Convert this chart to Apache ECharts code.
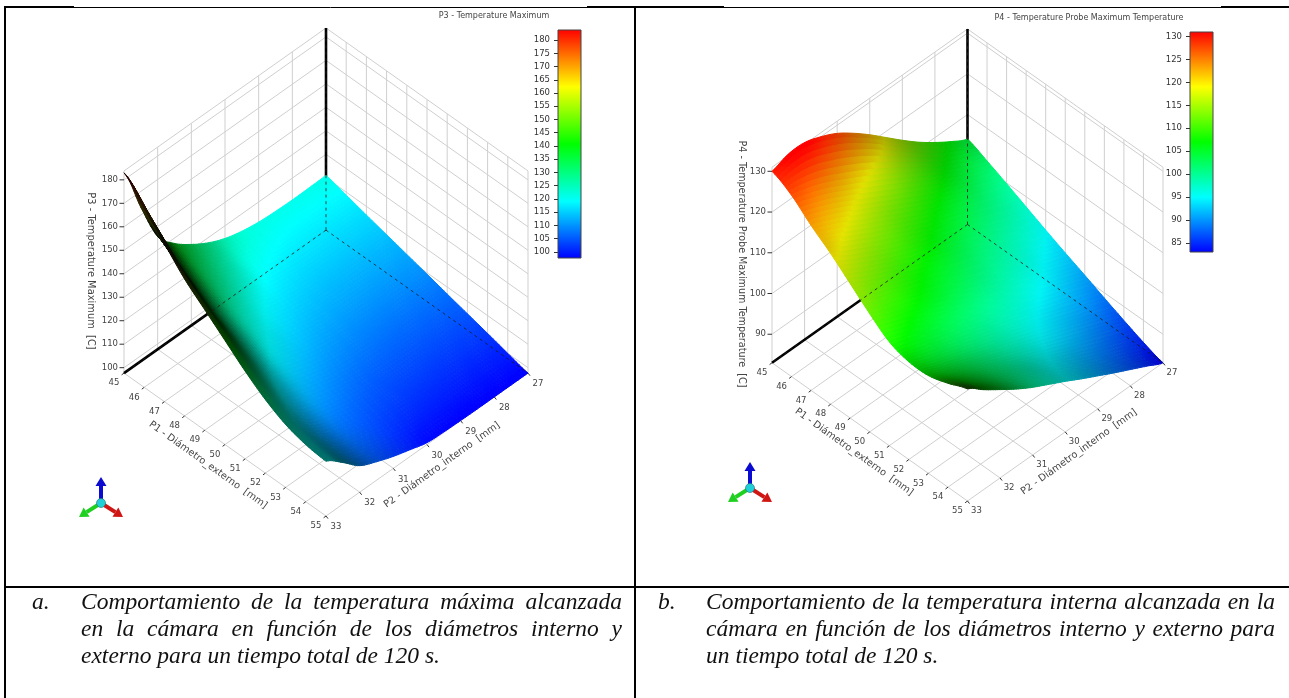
<!DOCTYPE html>
<html><head><meta charset="utf-8">
<style>html,body{margin:0;padding:0;background:#fff}#c{width:1289px;height:698px}</style>
<script src="https://cdn.jsdelivr.net/npm/echarts@6/dist/echarts.min.js"></script>
</head><body><div id="c"></div>
<script>
// ---- Data ----
const p1Ticks = [45,46,47,48,49,50,51,52,53,54,55];
const p2Ticks = [27,28,29,30,31,32,33];
const p2Samples = [27,27.5,28,28.5,29,29.5,30,30.5,31,31.5,32,32.5,33];
const leftZTicks = [100,110,120,130,140,150,160,170,180];
const rightZTicks = [90,100,110,120,130];
const leftBarTicks = [100,105,110,115,120,125,130,135,140,145,150,155,160,165,170,175,180];
const rightBarTicks = [85,90,95,100,105,110,115,120,125,130];
const leftRange = [97.7,183.8];
const rightRange = [83,131];
const rampColors = [[0,0,255],[0,255,255],[0,255,0],[255,255,0],[255,0,0]];
// temperature per row P1 = 45..55, per column P2 = 27..33 (step .5)
const leftSurface = [
[121,120.8,120.7,120.9,121.4,122.6,124.6,127.8,132.2,137.7,145.8,163.2,183],
[118.7,118.6,118.6,118.8,119.3,120.4,122,124.8,128.7,133.6,140.8,156.3,174],
[116.3,116.3,116.3,116.5,116.9,117.8,119.2,121.7,125.1,129.5,135.8,149.4,165],
[114,114,114,114.2,114.5,115.3,116.6,118.6,121.6,125.3,130.8,142.6,156],
[111.7,111.7,111.7,111.9,112.2,112.9,114,115.8,118.4,121.8,126.6,137.1,149],
[109.4,109.4,109.4,109.5,109.8,110.4,111.4,113,115.3,118.2,122.4,131.6,142],
[107,107,107,107.1,107.4,107.9,108.8,110.1,112,114.6,118.2,126,135],
[104.7,104.7,104.7,104.8,105,105.4,106.1,107.4,109.1,111.3,114.4,121.2,129],
[102.4,102.4,102.4,102.5,102.7,103.1,103.8,104.9,106.4,108.4,111.4,117.6,124.5],
[100,100,100,100.1,100.3,100.6,101.2,102.5,104.6,106.8,110,116,122],
[97.7,97.7,97.7,97.7,97.8,98,98.5,100.6,102.8,105.6,109,115.4,121]];
const rightSurface = [
[104,106.2,108.8,111.7,115,118.5,122,125.2,128,130,131.4,131.4,130],
[102,103.6,105.6,108,110.6,113.2,115.8,118.2,120.5,122.7,124.8,126.4,127.5],
[99.8,101.2,102.9,104.7,106.6,108.7,110.9,113.1,115.4,117.6,119.8,121.8,123.5],
[97.5,99,100.6,102.2,103.8,105.5,107.4,109.4,111.4,113.4,115.6,117.8,120],
[95.2,96.8,98.3,99.9,101.4,103,104.7,106.3,108,109.8,111.8,113.8,116],
[93,94.5,96.1,97.7,99.2,100.7,102.3,103.8,105.4,107,108.6,110.2,112],
[90.9,92.4,94,95.5,97,98.5,99.9,101.3,102.7,104.1,105.6,107.1,108.5],
[88.7,90.2,91.7,93.3,94.9,96.5,98,99.5,101,102.4,103.9,105.4,107],
[86.6,88.2,89.9,91.6,93.3,95,96.8,98.5,100.2,101.9,103.6,105.3,107],
[84.6,86.3,88.1,89.9,91.8,93.8,95.8,97.9,100,102,104.1,106.3,108.5],
[83,85,87,89,91.1,93.2,95.4,97.5,99.6,102,104.7,107.5,110.5]];
const captionA = ["Comportamiento de la temperatura máxima alcanzada","en la cámara en función de los diámetros interno y","externo para un tiempo total de 120 s."];
const captionB = ["Comportamiento de la temperatura interna alcanzada en la","cámara en función de los diámetros interno y externo para","un tiempo total de 120 s."];

// ---- Projection of (P1,P2,T) onto the hidden scene axes ----
const K = 0.707, SUB = 7, UI = 'DejaVu Sans', INK = '#444';
function project(p1, p2, t, r) {
  const a = (p1-45)/10, b = (33-p2)/6, c = (t-r[0])/(r[1]-r[0]);
  return [a+b, (b-a)*K + c];
}
function rampRGB(t, r) {
  const x = Math.max(0, Math.min(0.99999, (t-r[0])/(r[1]-r[0]))) * 4, k = Math.floor(x), f = x-k;
  return rampColors[k].map((v,n)=>v+(rampColors[k+1][n]-v)*f);
}
function cr(p0,p1,p2,p3,t){return .5*(2*p1+(p2-p0)*t+(2*p0-5*p1+4*p2-p3)*t*t+(3*p1-p0-3*p2+p3)*t*t*t);}
function sampler(tab){
  const R=tab.length-1,C=tab[0].length-1,cl=(v,m)=>Math.max(0,Math.min(m,v));
  return (x,y)=>{
    const i=Math.min(R-1,Math.floor(x)),j=Math.min(C-1,Math.floor(y)),fx=x-i,fy=y-j,row=[];
    for(let n=-1;n<=2;n++){const T=tab[cl(i+n,R)];row.push(cr(T[cl(j-1,C)],T[j],T[j+1],T[cl(j+2,C)],fy));}
    return cr(row[0],row[1],row[2],row[3],fx);
  };
}
// view-facing brightness at each table node, blended smoothly across a cell
function nodeShade(tab,r){
  const R=tab.length-1,C=tab[0].length-1,z=r[1]-r[0],out=[];
  for(let i=0;i<=R;i++){const line=[];for(let j=0;j<=C;j++){
    const i0=Math.max(0,i-1),i1=Math.min(R,i+1),j0=Math.max(0,j-1),j1=Math.min(C,j+1);
    const ca=(tab[i1][j]-tab[i0][j])/(i1-i0)*R/z, cs=(tab[i][j1]-tab[i][j0])/(j1-j0)*C/z;
    const nv=(-.85*ca-cs+1.414)/(2*Math.sqrt(ca*ca+cs*cs+1));
    line.push(nv<0?Math.min(.42,.12+(-nv)*.6):Math.min(1,nv/.64));
  } out.push(line);}
  return out;
}
function buildMesh(tab, r){
  const s=sampler(tab),sh=nodeShade(tab,r),b=sampler(sh),R=tab.length-1,C=tab[0].length-1,mesh=[];
  for(let p=0;p<=R*SUB;p++){const line=[];for(let q=0;q<=C*SUB;q++){
    const x=p/SUB,y=q/SUB,t=s(x,y);
    line.push({uv:project(45+x,27+y/2,t,r),t,bright:Math.max(.05,Math.min(1,b(x,y)))});
  } mesh.push(line);}
  return mesh;
}
function surfaceSeries(idx, tab, r){
  const mesh=buildMesh(tab,r), data=[];
  for(let i=0;i<p1Ticks.length-1;i++)for(let j=0;j<p2Samples.length-1;j++)data.push([i,j]);
  return {type:'custom',xAxisIndex:idx,yAxisIndex:idx,z:3,silent:true,animation:false,data,encode:{x:0,y:1},clip:false,
    renderItem(params,api){
      const i=api.value(0),j=api.value(1),children=[];
      for(let p=0;p<SUB;p++)for(let q=0;q<SUB;q++){
        const v=[mesh[i*SUB+p][j*SUB+q],mesh[i*SUB+p+1][j*SUB+q],mesh[i*SUB+p+1][j*SUB+q+1],mesh[i*SUB+p][j*SUB+q+1]];
        const t=(v[0].t+v[1].t+v[2].t+v[3].t)/4,b=(v[0].bright+v[1].bright+v[2].bright+v[3].bright)/4;
        const c=rampRGB(t,r).map(n=>Math.round(n*b));
        const col='rgb('+c.join(',')+')';
        children.push({type:'polygon',silent:true,shape:{points:v.map(o=>api.coord(o.uv))},style:{fill:col,stroke:col,lineWidth:1}});
      }
      return {type:'group',children};
    }};
}
// wall and floor grid: data items are [kind, value]
function gridSeries(idx, zTicks, r){
  const data=[];
  p1Ticks.forEach(v=>data.push([0,v]));p2Ticks.forEach(v=>data.push([1,v]));
  zTicks.concat(r).forEach(v=>data.push([2,v]));
  return {type:'custom',xAxisIndex:idx,yAxisIndex:idx,z:1,silent:true,animation:false,data,encode:{x:1,y:1},clip:false,
    renderItem(params,api){
      const k=api.value(0),v=api.value(1),P=(a,b,c)=>api.coord(project(a,b,c,r));
      const L=(A,B)=>({type:'line',shape:{x1:A[0],y1:A[1],x2:B[0],y2:B[1]},style:{stroke:'#cfcfcf',lineWidth:1}});
      let ch;
      if(k===0)ch=[L(P(v,33,r[0]),P(v,27,r[0])),L(P(v,27,r[0]),P(v,27,r[1]))];
      else if(k===1)ch=[L(P(45,v,r[0]),P(55,v,r[0])),L(P(45,v,r[0]),P(45,v,r[1]))];
      else ch=[L(P(45,33,v),P(45,27,v)),L(P(45,27,v),P(55,27,v))];
      return {type:'group',children:ch};
    }};
}
// bold axes under the surface, dashed hidden edges over it
function edgeSeries(idx, r, dashed){
  const data=[[0],[1],[2]];
  return {type:'custom',xAxisIndex:idx,yAxisIndex:idx,z:dashed?4:2,silent:true,animation:false,data:dashed?data:data.slice(0,2),encode:{x:0,y:0},clip:false,
    renderItem(params,api){
      const k=api.value(0),O=project(45,27,r[0],r);
      const E=k===0?project(45,33,r[0],r):k===1?project(45,27,r[1],r):project(55,27,r[0],r);
      const A=api.coord(O),B=api.coord(E);
      return {type:'line',shape:{x1:A[0],y1:A[1],x2:B[0],y2:B[1]},
        style:dashed?{stroke:'#1a1a1a',lineWidth:.8,lineDash:[3,3.5]}:{stroke:'#000',lineWidth:2.6}};
    }};
}
// tick marks + tick labels
function tickSeries(idx, zTicks, r, off){
  const data=[];
  p1Ticks.forEach(v=>data.push([0,v]));p2Ticks.forEach(v=>data.push([1,v]));zTicks.forEach(v=>data.push([2,v]));
  return {type:'custom',xAxisIndex:idx,yAxisIndex:idx,z:5,silent:true,animation:false,data,encode:{x:1,y:1},clip:false,
    renderItem(params,api){
      const k=api.value(0),v=api.value(1);
      let A,dx,dy,lx,ly,al='center';
      if(k===0){A=api.coord(project(v,33,r[0],r));dx=-2.4;dy=1.8;lx=A[0]+off.p1[0];ly=A[1]+off.p1[1];}
      else if(k===1){A=api.coord(project(55,v,r[0],r));dx=2;dy=2.6;lx=A[0]+off.p2[0];ly=A[1]+off.p2[1];}
      else{A=api.coord(project(45,33,v,r));dx=-4.5;dy=0;lx=A[0]-6;ly=A[1];al='right';}
      return {type:'group',children:[
        {type:'line',shape:{x1:A[0],y1:A[1],x2:A[0]+dx,y2:A[1]+dy},style:{stroke:'#333',lineWidth:1}},
        {type:'text',x:lx,y:ly,style:{text:String(v),fontFamily:UI,fontSize:8.5,fill:INK,textAlign:al,textVerticalAlign:'middle'}}
      ]};
    }};
}
function barSeries(idx, r){
  return {type:'custom',xAxisIndex:idx,yAxisIndex:idx,z:2,silent:true,animation:false,data:[[0,r[0]]],encode:{x:0,y:1},clip:false,
    renderItem(params,api){
      const A=api.coord([0,r[1]]),B=api.coord([1,r[0]]);
      const stops=rampColors.slice().reverse().map((c,n)=>({offset:n/4,color:'rgb('+c.join(',')+')'}));
      return {type:'rect',shape:{x:A[0],y:A[1],width:B[0]-A[0],height:B[1]-A[1]},
        style:{fill:new echarts.graphic.LinearGradient(0,0,0,1,stops),stroke:'#444',lineWidth:1}};
    }};
}
function sceneGrid(x0,x1,y0,y1){return {left:x0,width:x1-x0,top:y0,height:y1-y0};}
const hiddenX=(min,max)=>({type:'value',min,max,show:false});
const hiddenY=(min,max)=>({type:'value',min,max,show:false});
const barAxis=(r,ticks)=>({type:'value',min:r[0],max:r[1],position:'left',
  axisLine:{show:false},splitLine:{show:false},
  axisTick:{show:true,length:4,customValues:ticks,lineStyle:{color:'#333',width:1}},
  axisLabel:{show:true,customValues:ticks,margin:8,fontFamily:UI,fontSize:8.5,color:'#333'}});

// ---- frame, captions, annotation text ----
const gfx=[];
const rule=(x1,y1,x2,y2,w)=>gfx.push({type:'line',silent:true,z:10,shape:{x1,y1,x2,y2},style:{stroke:'#000',lineWidth:w}});
rule(4,7,74,7,2);rule(74,7.5,587,7.5,1);rule(587,7,724,7,2);rule(724,7.5,1221,7.5,1);rule(1221,7,1289,7,2);
rule(5,6,5,698,2);rule(635,6,635,698,2);rule(4,587,1289,587,2);
const label=(text,x,y,size,rot,extra)=>gfx.push({type:'text',silent:true,z:10,x,y,rotation:rot*Math.PI/180,
  style:Object.assign({text,fontFamily:UI,fontSize:size,fill:INK,textAlign:'center',textVerticalAlign:'middle'},extra||{})});
label('P3 - Temperature Maximum',494,16,8,0);
label('P4 - Temperature Probe Maximum Temperature',1089,18,8,0);
label('P3 - Temperature Maximum  [C]',91,271,9.9,-90);
label('P4 - Temperature Probe Maximum Temperature  [C]',741,264,9.6,-90);
label('P1 - Diámetro_externo  [mm]',208,465,9.8,-35.6);
label('P2 - Diámetro_interno  [mm]',442,465,9.8,35.6);
label('P1 - Diámetro_externo  [mm]',854,452,9.8,-35.6);
label('P2 - Diámetro_interno  [mm]',1079,452,9.8,35.6);
const CAP=23.5;
const capFont={fontFamily:'Liberation Serif',fontStyle:'italic',fontSize:CAP,fill:'#111',textAlign:'left',textVerticalAlign:'middle'};
const mctx=document.createElement('canvas').getContext('2d');mctx.font='italic '+CAP+'px "Liberation Serif"';
function capLine(text,x0,x1,y,justify){
  const w=text.split(' ');const tw=w.reduce((s,t)=>s+mctx.measureText(t).width,0);
  const gap=justify?(x1-x0-tw)/(w.length-1):mctx.measureText(' ').width;let x=x0;
  w.forEach(t=>{gfx.push({type:'text',silent:true,z:10,x,y,style:Object.assign({text:t},capFont)});x+=mctx.measureText(t).width+gap;});
}
const capY=[603,630,657];
gfx.push({type:'text',silent:true,z:10,x:32,y:capY[0],style:Object.assign({text:'a.'},capFont)});
gfx.push({type:'text',silent:true,z:10,x:658,y:capY[0],style:Object.assign({text:'b.'},capFont)});
captionA.forEach((t,n)=>capLine(t,81,622,capY[n],n<2));
captionB.forEach((t,n)=>capLine(t,706,1275,capY[n],n<2));
// orientation triads
function triad(cx,cy){
  const arrow=(dx,dy,col)=>{
    const len=Math.hypot(dx,dy),ux=dx/len,uy=dy/len,px=-uy,py=ux,hx=cx+dx-ux*9,hy=cy+dy-uy*9;
    gfx.push({type:'line',silent:true,z:11,shape:{x1:cx,y1:cy,x2:hx,y2:hy},style:{stroke:col,lineWidth:4}});
    gfx.push({type:'polygon',silent:true,z:11,shape:{points:[[cx+dx,cy+dy],[hx+px*5.5,hy+py*5.5],[hx-px*5.5,hy-py*5.5]]},style:{fill:col}});
  };
  arrow(0,-26,'#0a0ad0');arrow(22,14,'#d01515');arrow(-22,14,'#20d020');
  gfx.push({type:'circle',silent:true,z:12,shape:{cx,cy,r:4.5},style:{fill:'#20d0d8',stroke:'#2a6a70',lineWidth:.6}});
}
triad(101,503);triad(750,488);

const chart=echarts.init(document.getElementById('c'),null,{renderer:'canvas'});
chart.setOption({
  animation:false,backgroundColor:'#fff',tooltip:{show:false},
  grid:[sceneGrid(124,528,28,516),sceneGrid(772,1163,29,501),sceneGrid(558,581,30,258),sceneGrid(1190,1213,32,252)],
  xAxis:[hiddenX(0,2),hiddenX(0,2),hiddenX(0,1),hiddenX(0,1)].map((a,i)=>Object.assign(a,{gridIndex:i})),
  yAxis:[hiddenY(-K,1+K),hiddenY(-K,1+K),barAxis(leftRange,leftBarTicks),barAxis(rightRange,rightBarTicks)].map((a,i)=>Object.assign(a,{gridIndex:i})),
  series:[
    gridSeries(0,leftZTicks,leftRange),edgeSeries(0,leftRange,false),surfaceSeries(0,leftSurface,leftRange),edgeSeries(0,leftRange,true),
    tickSeries(0,leftZTicks,leftRange,{p1:[-10,10],p2:[10,11]}),
    gridSeries(1,rightZTicks,rightRange),edgeSeries(1,rightRange,false),surfaceSeries(1,rightSurface,rightRange),edgeSeries(1,rightRange,true),
    tickSeries(1,rightZTicks,rightRange,{p1:[-10,10],p2:[9,10]}),
    barSeries(2,leftRange),barSeries(3,rightRange)
  ],
  graphic:{elements:gfx}
});
</script></body></html>
